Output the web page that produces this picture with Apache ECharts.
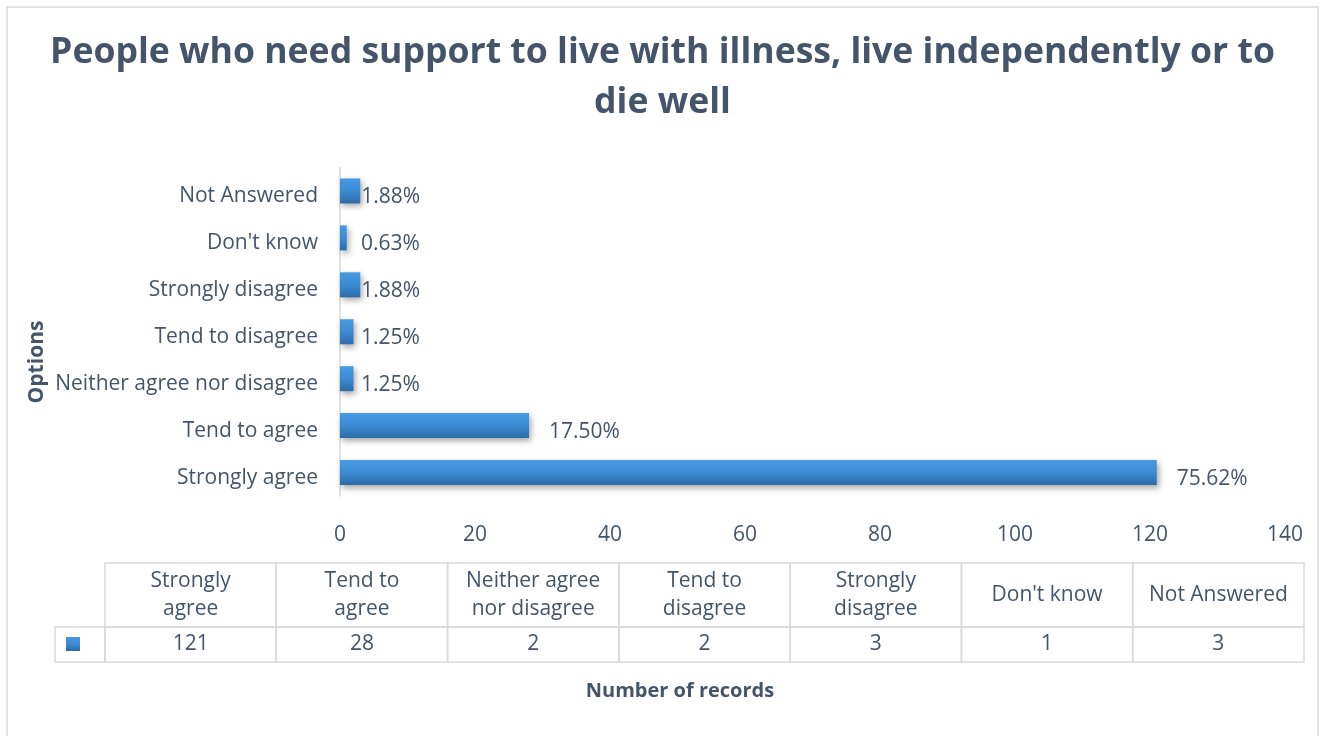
<!DOCTYPE html>
<html>
<head>
<meta charset="utf-8">
<script src="https://cdn.jsdelivr.net/npm/echarts@6/dist/echarts.min.js"></script>
<style>
  html, body { margin: 0; padding: 0; background: #fff; }
  #chart { width: 1325px; height: 736px; }
</style>
</head>
<body>
<div id="chart"></div>
<script>
// Survey answers, bottom-to-top on the bar axis, left-to-right in the table
const categories = ['Strongly agree', 'Tend to agree', 'Neither agree nor disagree', 'Tend to disagree', 'Strongly disagree', "Don't know", 'Not Answered'];
const tableHeaders = ['Strongly\nagree', 'Tend to\nagree', 'Neither agree\nnor disagree', 'Tend to\ndisagree', 'Strongly\ndisagree', "Don't know", 'Not Answered'];
const records = [121, 28, 2, 2, 3, 1, 3];
const percentLabels = ['75.62%', '17.50%', '1.25%', '1.25%', '1.88%', '0.63%', '1.88%'];
const xTicks = [0, 140, 20];

const TEXT = '#44546a';
const FONT = 'Open Sans';
const LINE = '#d9d9d9';
const FS = 21;

const barFill = new echarts.graphic.LinearGradient(0, 0, 0, 1, [
  { offset: 0, color: '#469be2' },
  { offset: 0.5, color: '#3c8bd4' },
  { offset: 1, color: '#2d6ba7' }
]);

const barData = records.map((v, i) => ({
  value: v,
  label: {
    formatter: percentLabels[i],
    distance: v >= 10 ? 20 : Math.max(1, 21 - v * 6.75)
  }
}));

const chart = echarts.init(document.getElementById('chart'), null, { renderer: 'canvas' });

chart.setOption({
  backgroundColor: '#fff',
  animation: false,
  title: {
    text: 'People who need support to live with illness, live independently or to\ndie well',
    left: 'center',
    top: 23,
    textStyle: { fontFamily: FONT, fontSize: 35.6, fontWeight: 'bold', color: TEXT, lineHeight: 50 }
  },
  grid: [
    { left: 340, right: 40, top: 167.5, height: 328.5 },
    { left: 105, right: 21, top: 563, height: 99 }
  ],
  xAxis: [
    {
      gridIndex: 0, type: 'value', min: xTicks[0], max: xTicks[1], interval: xTicks[2],
      axisLine: { show: false }, axisTick: { show: false }, splitLine: { show: false },
      axisLabel: { color: TEXT, fontFamily: FONT, fontSize: FS, margin: 29 }
    },
    {
      gridIndex: 1, type: 'category', data: categories, show: false
    }
  ],
  yAxis: [
    {
      gridIndex: 0, type: 'category', data: categories,
      axisLine: { show: true, lineStyle: { color: LINE, width: 1.5 } },
      axisTick: { show: false },
      axisLabel: {
        margin: 22,
        formatter: v => '{c|' + v + '}',
        rich: { c: { color: TEXT, fontFamily: FONT, fontSize: FS, padding: [10, 0, 0, 0] } }
      }
    },
    {
      gridIndex: 1, type: 'value', min: 0, max: 99, inverse: true, show: false
    }
  ],
  series: [
    {
      type: 'bar',
      xAxisIndex: 0, yAxisIndex: 0,
      data: barData,
      barWidth: 25,
      itemStyle: {
        color: barFill,
        shadowColor: 'rgba(0,0,0,0.35)',
        shadowBlur: 6,
        shadowOffsetX: 2,
        shadowOffsetY: 3
      },
      label: {
        show: true, position: 'right', offset: [0, 6],
        color: TEXT, fontFamily: FONT, fontSize: FS
      }
    },
    {
      // data table: one column per answer, header cell above the count cell
      type: 'custom',
      xAxisIndex: 1, yAxisIndex: 1,
      data: records.map((v, i) => [i, v]),
      renderItem: function (params, api) {
        const idx = api.value(0);
        const bw = api.size([1, 0])[0];
        const cx = api.coord([idx, 0])[0];
        const x0 = cx - bw / 2;
        const yTop = api.coord([idx, 0])[1];
        const yMid = api.coord([idx, 64])[1];
        const yBot = api.coord([idx, 99])[1];
        return {
          type: 'group',
          children: [
            { type: 'rect', shape: { x: x0, y: yTop, width: bw, height: yMid - yTop },
              style: { fill: 'none', stroke: LINE, lineWidth: 1.5 } },
            { type: 'rect', shape: { x: x0, y: yMid, width: bw, height: yBot - yMid },
              style: { fill: 'none', stroke: LINE, lineWidth: 1.5 } },
            { type: 'text', x: cx, y: (yTop + yMid) / 2,
              style: { text: tableHeaders[idx], fill: TEXT, font: FS + 'px "' + FONT + '"',
                align: 'center', verticalAlign: 'middle', lineHeight: 28 } },
            { type: 'text', x: cx, y: (yMid + yBot) / 2 - 0.5,
              style: { text: String(api.value(1)), fill: TEXT, font: FS + 'px "' + FONT + '"',
                align: 'center', verticalAlign: 'middle' } }
          ]
        };
      }
    }
  ],
  graphic: [
    { type: 'rect', shape: { x: 7, y: 7, width: 1311, height: 740 },
      style: { fill: 'none', stroke: LINE, lineWidth: 1.5 }, silent: true, z: -1 },
    // legend key cell of the data table
    { type: 'rect', shape: { x: 55, y: 627, width: 50, height: 35 },
      style: { fill: 'none', stroke: LINE, lineWidth: 1.5 } },
    { type: 'rect', shape: { x: 66, y: 637, width: 14, height: 14 },
      style: { fill: barFill } },
    { type: 'text', x: 37, y: 362, rotation: Math.PI / 2,
      style: { text: 'Options', fill: TEXT, font: 'bold 21px "' + FONT + '"', align: 'center', verticalAlign: 'middle' } },
    { type: 'text', x: 680, y: 691,
      style: { text: 'Number of records', fill: TEXT, font: 'bold 20px "' + FONT + '"', align: 'center', verticalAlign: 'middle' } }
  ]
});
</script>
</body>
</html>
